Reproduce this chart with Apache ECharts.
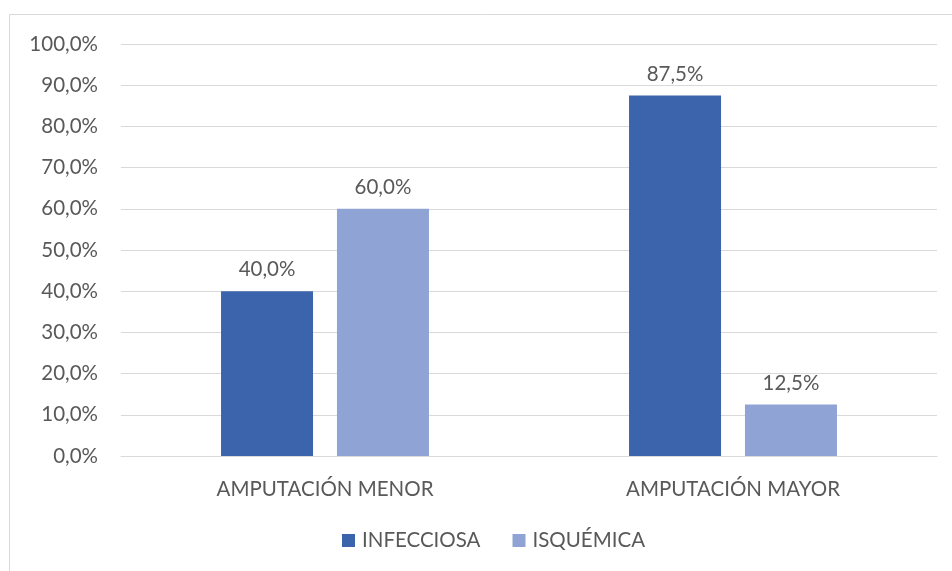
<!DOCTYPE html>
<html>
<head>
<meta charset="utf-8">
<script src="https://cdn.jsdelivr.net/npm/echarts@6/dist/echarts.min.js"></script>
<style>
  html, body { margin: 0; padding: 0; background: #fff; }
  #main { width: 952px; height: 571px; }
</style>
</head>
<body>
<div id="main"></div>
<script>
var categories = ['AMPUTACIÓN MENOR', 'AMPUTACIÓN MAYOR'];
var infecciosa = [40.0, 87.5];
var isquemica = [60.0, 12.5];
var seriesNames = ['INFECCIOSA', 'ISQUÉMICA'];

var chartDom = document.getElementById('main');
var myChart = echarts.init(chartDom);
var font = 'Lato, "Open Sans", sans-serif';
var textColor = '#595959';
var fs = 20.5;

function pct(v) {
  return v.toFixed(1).replace('.', ',') + '%';
}

var option = {
  animation: false,
  backgroundColor: '#fff',
  color: ['#3C64AC', '#8FA3D4'],
  graphic: [
    {
      type: 'rect',
      shape: { x: 9.5, y: 14.5, width: 960, height: 600 },
      style: { fill: 'none', stroke: '#D9D9D9', lineWidth: 1 }
    }
  ],
  grid: {
    left: 121,
    right: 15,
    top: 44,
    bottom: 115
  },
  legend: {
    bottom: 15,
    left: 337,
    itemWidth: 13,
    itemHeight: 13,
    itemGap: 32,
    icon: 'rect',
    textStyle: { color: textColor, fontSize: fs, fontFamily: font, padding: [0, 0, 0, 2] },
    data: seriesNames
  },
  xAxis: {
    type: 'category',
    data: categories,
    axisLine: { lineStyle: { color: '#D9D9D9' } },
    axisTick: { show: false },
    axisLabel: { color: textColor, fontSize: fs, fontFamily: font, margin: 23 }
  },
  yAxis: {
    type: 'value',
    min: 0,
    max: 100,
    interval: 10,
    axisLine: { show: false },
    axisTick: { show: false },
    splitLine: { lineStyle: { color: '#D9D9D9' } },
    axisLabel: {
      color: textColor, fontSize: fs, fontFamily: font, margin: 23,
      formatter: function (v) { return pct(v); }
    }
  },
  series: [
    {
      name: seriesNames[0],
      type: 'bar',
      data: infecciosa,
      barWidth: 92,
      barGap: '26%',
      label: {
        show: true, position: 'top', distance: 11,
        color: textColor, fontSize: fs, fontFamily: font,
        formatter: function (p) { return pct(p.value); }
      }
    },
    {
      name: seriesNames[1],
      type: 'bar',
      data: isquemica,
      barWidth: 92,
      barGap: '26%',
      label: {
        show: true, position: 'top', distance: 11,
        color: textColor, fontSize: fs, fontFamily: font,
        formatter: function (p) { return pct(p.value); }
      }
    }
  ]
};

option && myChart.setOption(option);
window.addEventListener('resize', myChart.resize);
</script>
</body>
</html>
